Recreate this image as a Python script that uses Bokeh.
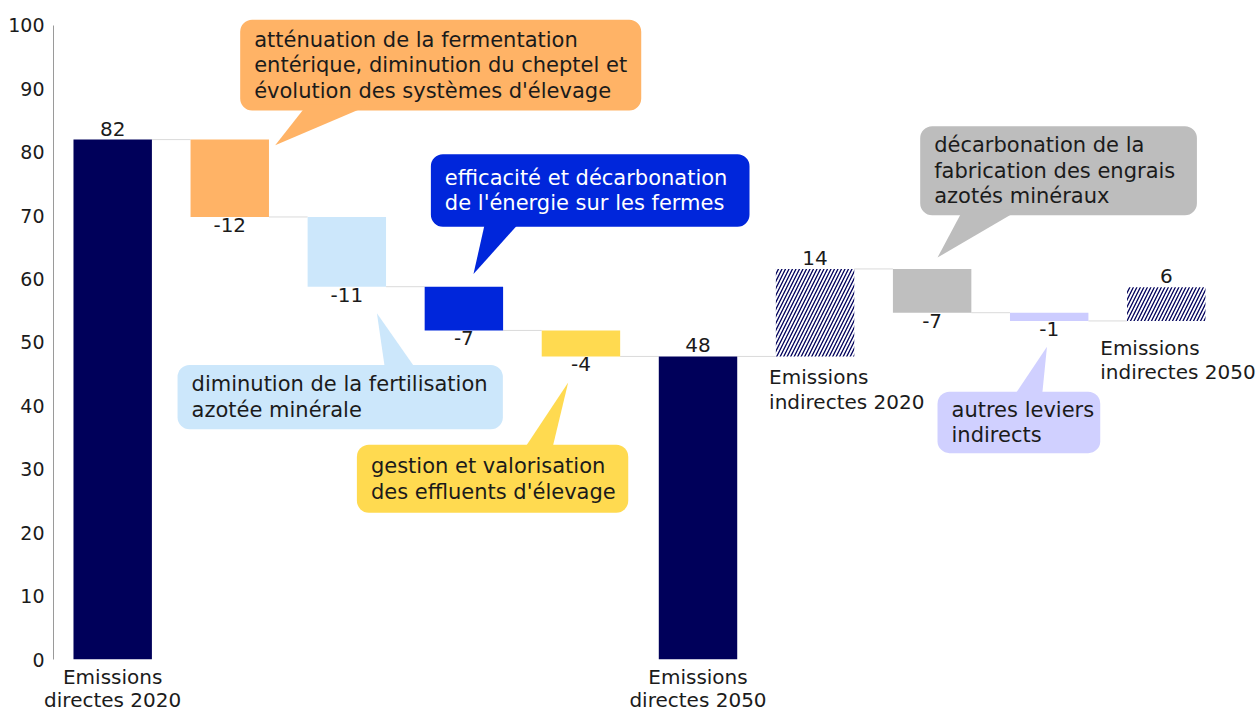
from bokeh.plotting import figure
from bokeh.models import Range1d, FixedTicker, BoxAnnotation, PolyAnnotation, Label, LabelSet, ColumnDataSource
from bokeh.core.properties import value
from bokeh.embed import file_html
from bokeh.resources import INLINE

# ---------------- data ----------------
categories = ["Emissions directes 2020", "fermentation", "fertilisation", "énergie", "effluents",
              "Emissions directes 2050", "Emissions indirectes 2020", "engrais", "autres", "Emissions indirectes 2050"]
values = [82.0, -12.2, -11.0, -6.9, -4.1, 47.8, 13.8, -6.9, -1.3, 5.3]
value_labels = ["82", "-12", "-11", "-7", "-4", "48", "14", "-7", "-1", "6"]
kinds = ["total", "step", "step", "step", "step", "total", "stack", "step", "step", "stack"]
bar_names = ["Emissions\ndirectes 2020", "", "", "", "", "Emissions\ndirectes 2050",
             "Emissions\nindirectes 2020", "", "", "Emissions\nindirectes 2050"]
lever_texts = ["",
               "atténuation de la fermentation\nentérique, diminution du cheptel et\névolution des systèmes d'élevage",
               "diminution de la fertilisation\nazotée minérale",
               "efficacité et décarbonation\nde l'énergie sur les fermes",
               "gestion et valorisation\ndes effluents d'élevage",
               "", "",
               "décarbonation de la\nfabrication des engrais\nazotés minéraux",
               "autres leviers\nindirects",
               ""]
y_ticks = [0, 10, 20, 30, 40, 50, 60, 70, 80, 90, 100]

# ---------------- styles ----------------
FONT = "DejaVu Sans"
TXT = "#1b1b1b"
bar_colors = ["#00005a", "#ffb366", "#cce7fb", "#0026db", "#ffda50",
              "#00005a", "#ffffff", "#bfbfbf", "#ccccff", "#ffffff"]
callout_colors = {1: "#ffb366", 2: "#cce7fb", 3: "#0026db", 4: "#ffda50", 7: "#bdbdbd", 8: "#d0d0ff"}
callout_text_colors = {3: "#ffffff"}
# callout geometry in data units: box (left, right, bottom, top), tail (xs, ys)
callout_geom = {
    1: dict(box=(1.089, 4.515, 86.6, 100.9), tail=([1.66, 2.20, 1.388], [87.5, 87.5, 81.1])),
    2: dict(box=(0.554, 3.333, 36.33, 46.46), tail=([2.328, 2.599, 2.257], [45.6, 45.6, 54.6])),
    3: dict(box=(2.718, 5.440, 68.24, 79.69), tail=([3.182, 3.481, 3.082], [69.0, 69.0, 60.8])),
    4: dict(box=(2.086, 4.404, 23.15, 33.86), tail=([3.507, 3.752, 3.891], [33.0, 33.0, 43.67])),
    7: dict(box=(6.898, 9.262, 70.08, 84.09), tail=([7.266, 7.752, 7.046], [71.0, 71.0, 63.4])),
    8: dict(box=(7.046, 8.436, 32.55, 42.25), tail=([7.693, 7.938, 7.981], [41.4, 41.4, 49.34])),
}
name_offsets = {6: (-46, -9), 9: (-66, -15)}
BAR_W = 0.67

# ---------------- geometry from values ----------------
bottoms, tops, ends = [], [], []
level = 0.0
for v, k in zip(values, kinds):
    if k == "total":
        b, t = 0.0, v
        level = v
    elif k == "step":
        t, b = level, level + v
        level = level + v
    else:  # stacked on current level
        b, t = level, level + v
        level = t
    bottoms.append(b)
    tops.append(t)
    ends.append(level)

xs = list(range(len(values)))

p = figure(width=1258, height=714, output_backend="svg", toolbar_location=None, title=None,
           x_range=Range1d(-0.5057, 9.788), y_range=Range1d(0, 103.94),
           min_border_left=53, min_border_right=0, min_border_top=0, min_border_bottom=54)
p.outline_line_color = None
p.grid.visible = False
p.background_fill_color = "white"
p.border_fill_color = "white"

yax = p.yaxis[0]
yax.ticker = FixedTicker(ticks=y_ticks)
yax.bounds = (0, 100)
yax.axis_line_color = "#9a9a9a"
yax.axis_line_width = 1
yax.major_tick_line_color = None
yax.major_tick_out = 0
yax.major_tick_in = 0
yax.minor_tick_line_color = None
yax.minor_tick_out = 0
yax.major_label_standoff = 9
yax.major_label_text_font = FONT
yax.major_label_text_font_size = "19px"
yax.major_label_text_color = TXT

# x axis: names of the "total" bars
tot = [i for i, k in enumerate(kinds) if k == "total"]
xax = p.xaxis[0]
xax.ticker = FixedTicker(ticks=[xs[i] for i in tot])
xax.major_label_overrides = {xs[i]: bar_names[i] for i in tot}
xax.axis_line_color = None
xax.major_tick_line_color = None
xax.major_tick_out = 0
xax.major_tick_in = 0
xax.minor_tick_line_color = None
xax.minor_tick_out = 0
xax.major_label_standoff = 5
xax.major_label_text_font = FONT
xax.major_label_text_font_size = "20px"
xax.major_label_text_line_height = 0.96
xax.major_label_text_color = TXT

# connectors
cx0 = [xs[i] + BAR_W / 2 for i in range(len(xs) - 1)]
cx1 = [xs[i + 1] - BAR_W / 2 for i in range(len(xs) - 1)]
cy = ends[:-1]
p.segment(x0=cx0, y0=cy, x1=cx1, y1=cy, line_color="#dadada", line_width=1)

solid = [i for i, k in enumerate(kinds) if k != "stack"]
hatched = [i for i, k in enumerate(kinds) if k == "stack"]
src_solid = ColumnDataSource(dict(x=[xs[i] for i in solid], top=[tops[i] for i in solid],
                                  bottom=[bottoms[i] for i in solid], color=[bar_colors[i] for i in solid]))
p.vbar(x="x", top="top", bottom="bottom", width=BAR_W, fill_color="color", line_color=None, source=src_solid)
src_h = ColumnDataSource(dict(x=[xs[i] for i in hatched], top=[tops[i] for i in hatched],
                              bottom=[bottoms[i] for i in hatched]))
p.vbar(x="x", top="top", bottom="bottom", width=BAR_W, fill_color="white", line_color=None,
       hatch_pattern="/", hatch_color="#00005a", hatch_scale=7, hatch_weight=1.3, source=src_h)

# value labels
pos = [i for i, v in enumerate(values) if v > 0]
neg = [i for i, v in enumerate(values) if v < 0]
src_pos = ColumnDataSource(dict(x=[xs[i] for i in pos], y=[tops[i] for i in pos], t=[value_labels[i] for i in pos]))
src_neg = ColumnDataSource(dict(x=[xs[i] for i in neg], y=[bottoms[i] for i in neg], t=[value_labels[i] for i in neg]))
p.add_layout(LabelSet(x="x", y="y", text="t", source=src_pos, text_align="center", text_baseline="alphabetic",
                      y_offset=4, text_font=value(FONT), text_font_size="20px", text_color=TXT))
p.add_layout(LabelSet(x="x", y="y", text="t", source=src_neg, text_align="center", text_baseline="top",
                      y_offset=-1, text_font=value(FONT), text_font_size="20px", text_color=TXT))

# names of the indirect bars
for i, (dx, dy) in name_offsets.items():
    p.add_layout(Label(x=xs[i], y=bottoms[i], text=bar_names[i], x_offset=dx, y_offset=dy,
                       text_align="left", text_baseline="top",
                       text_line_height=1.02, text_font=FONT, text_font_size="20px", text_color=TXT))

# callouts
for i, g in callout_geom.items():
    l, r, b, t = g["box"]
    col = callout_colors[i]
    p.add_layout(BoxAnnotation(left=l, right=r, bottom=b, top=t, fill_color=col, fill_alpha=1,
                               line_alpha=0, border_radius=12, level="annotation"))
    p.add_layout(PolyAnnotation(xs=g["tail"][0], ys=g["tail"][1], fill_color=col, fill_alpha=1,
                                line_alpha=0, level="annotation"))
    p.add_layout(Label(x=l, y=(b + t) / 2, x_offset=14, text=lever_texts[i], text_align="left",
                       text_baseline="middle", text_line_height=1.065, text_font=FONT,
                       text_font_size="21px", text_color=callout_text_colors.get(i, TXT)))

open("out.html", "w").write(file_html(p, INLINE))
